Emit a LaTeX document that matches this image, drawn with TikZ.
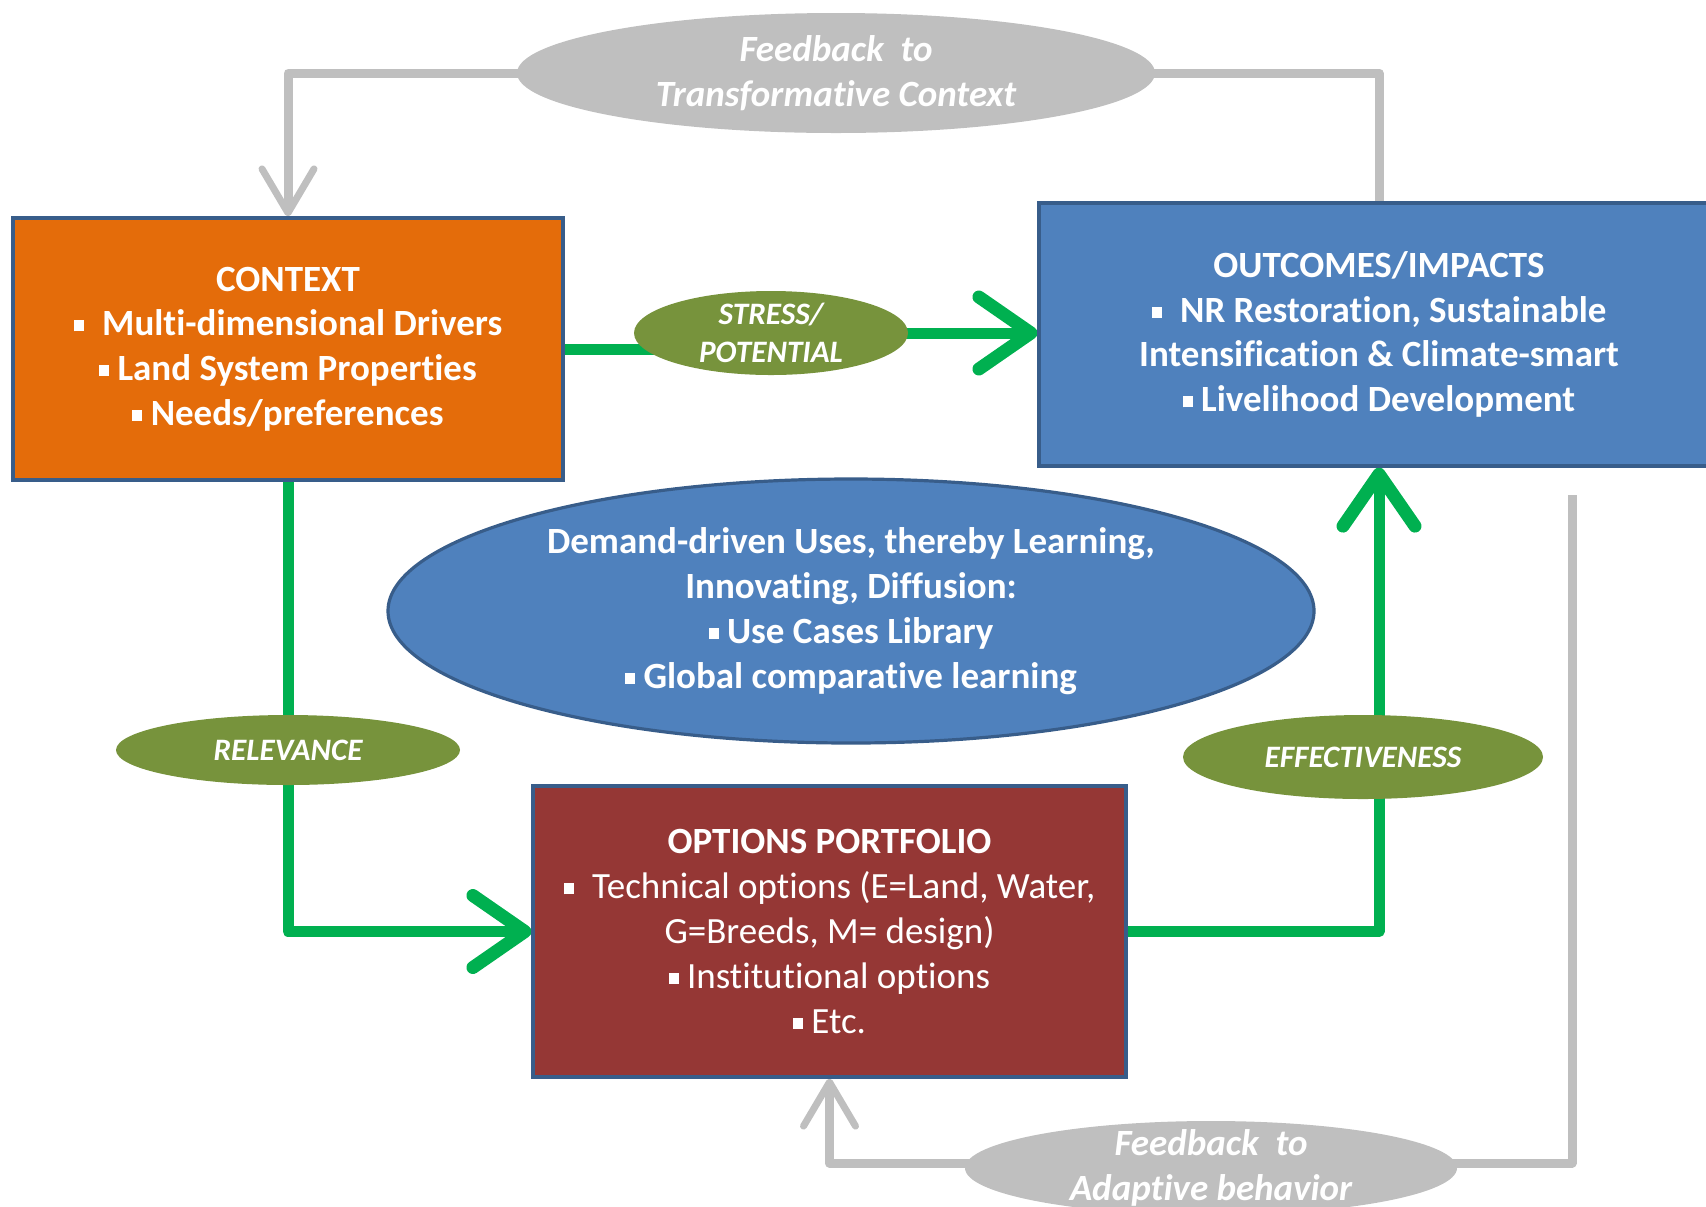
\documentclass[tikz,border=0pt]{standalone}
\usepackage{fontspec}
\setmainfont{Carlito}[Ligatures=NoCommon]
\usetikzlibrary{arrows.meta,shapes.geometric,backgrounds}

\definecolor{ctxorange}{HTML}{E46C0A}
\definecolor{outblue}{HTML}{4F81BD}
\definecolor{edgeblue}{HTML}{385D8A}
\definecolor{optred}{HTML}{953735}
\definecolor{tagolive}{HTML}{77933C}
\definecolor{arrgreen}{HTML}{00B050}
\definecolor{fbgray}{HTML}{BFBFBF}

\newcommand{\boxsize}{\fontsize{18.5}{22.4}\selectfont}
\newcommand{\tagsize}{\fontsize{15.6}{19}\selectfont}
\newcommand{\bul}{\rule[0.12em]{0.27em}{0.3em}}

\begin{document}
\begin{tikzpicture}[x=0.5pt, y=-0.5pt,
  box/.style={draw=edgeblue, line width=1.6pt, align=center, text=white, inner sep=0pt, font=\boxsize\bfseries},
  blob/.style={ellipse, inner sep=0pt, align=center, text=white},
  tag/.style={blob, fill=tagolive, font=\tagsize\bfseries\itshape},
  fbtag/.style={blob, fill=fbgray, font=\boxsize\bfseries\itshape},
  grn/.style={line width=5.5pt, draw=arrgreen, line join=round},
  grnarr/.style={grn, -{Straight Barb[length=26pt, width=36pt, line width=6.5pt, round]}},
  fb/.style={line width=4.5pt, draw=fbgray, line join=round},
  fbarr/.style={fb, -{Straight Barb[length=22pt, width=26pt, line width=3.5pt, round]}}
]
\clip (0,0) rectangle (1706,1206);

\node[box, fill=ctxorange, minimum width=275pt, minimum height=131pt] (context) at (288,349)
  {CONTEXT\\\bul\enspace Multi-dimensional Drivers\\\bul\ Land System Properties\\\bul\ Needs/preferences};
\node[box, fill=outblue, minimum width=340pt, minimum height=131.5pt] (outcomes) at (1379,334.5)
  {OUTCOMES/IMPACTS\\\bul\enspace NR Restoration, Sustainable\\Intensification \& Climate-smart\\\bul\ Livelihood Development};
\node[box, fill=optred, minimum width=296.5pt, minimum height=145.5pt] (options) at (829.5,931.5)
  {OPTIONS PORTFOLIO\\\mdseries\bul\enspace Technical options (E=Land, Water,\\\mdseries G=Breeds, M= design)\\\mdseries\bul\ Institutional options\\\mdseries\bul\ Etc.};
\node[blob, fill=outblue, draw=edgeblue, line width=1.6pt, font=\boxsize\bfseries, minimum width=463pt, minimum height=132pt] (uses) at (851,611)
  {Demand-driven Uses, thereby Learning,\\Innovating, Diffusion:\\\bul\ Use Cases Library\\\bul\ Global comparative learning};

\node[fbtag, minimum width=319pt, minimum height=60pt] (fbtop) at (836,73) {Feedback\ \ to\\Transformative Context};
\node[fbtag, inner ysep=-5pt, minimum width=246pt, minimum height=47pt] (fbbot) at (1211,1168) {Feedback\ \ to\\Adaptive behavior};
\node[tag, inner ysep=-3pt, minimum width=137pt, minimum height=42pt] (stress) at (771,333) {STRESS/\\POTENTIAL};
\node[tag, minimum width=172pt, minimum height=35pt] (relevance) at (288,750) {RELEVANCE};
\node[tag, minimum width=180pt, minimum height=42pt] (effect) at (1363,757) {EFFECTIVENESS};

\coordinate (fbstart) at (1572,495);
\coordinate (fbturn) at (1572,1163);

\begin{scope}[on background layer]
\draw[fbarr] (outcomes.north) |- (fbtop.center) -| (context.north);
\draw[fbarr] (fbstart) -- (fbturn) -| (options.south);
\draw[grn] (context.east) -- (context.east -| stress.center);
\draw[grnarr] (stress.center) -- (stress.center -| outcomes.west);
\draw[grnarr] (context.south) |- (options.west);
\draw[grnarr] (options.east) -| (outcomes.south);
\end{scope}

\end{tikzpicture}
\end{document}
